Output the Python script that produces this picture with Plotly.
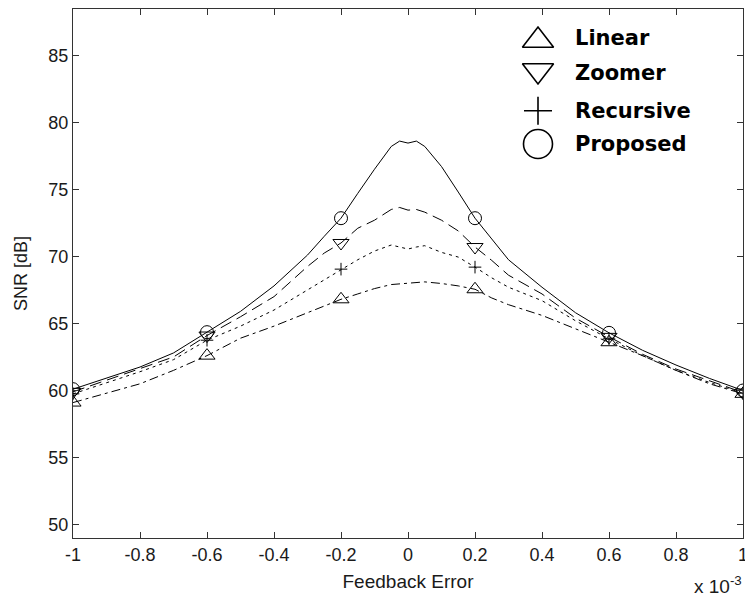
import plotly.graph_objects as go

# ---------------- data (feedback error in units of 1e-3) ----------------
x_err = [-1, -0.9, -0.8, -0.7, -0.6, -0.5, -0.4, -0.3, -0.25, -0.2, -0.15, -0.1, -0.05, -0.025,
         0, 0.025, 0.05, 0.1, 0.15, 0.2, 0.25, 0.3, 0.4, 0.5, 0.6, 0.7, 0.8, 0.9, 1]

snr_linear = [59.1, 59.8, 60.5, 61.5, 62.6, 63.9, 64.8, 65.8, 66.3, 66.8, 67.2, 67.6, 67.9, 67.95,
              68.0, 68.05, 68.1, 67.98, 67.8, 67.55, 66.9, 66.4, 65.6, 64.6, 63.6, 62.6, 61.5, 60.5, 59.75]
snr_zoomer = [59.9, 60.75, 61.6, 62.5, 64.1, 65.5, 67.0, 69.25, 70.25, 71.0, 72.1, 72.7, 73.5, 73.65,
              73.45, 73.5, 73.3, 72.7, 71.9, 70.7, 69.7, 68.6, 67.2, 65.4, 64.0, 62.7, 61.6, 60.7, 59.85]
snr_recursive = [59.75, 60.55, 61.4, 62.3, 63.75, 64.8, 66.0, 67.5, 68.25, 69.05, 69.75, 70.4, 70.85, 70.7,
                 70.55, 70.7, 70.8, 70.3, 69.95, 69.2, 68.4, 67.7, 66.7, 65.2, 63.85, 62.6, 61.5, 60.6, 59.8]
snr_proposed = [60.1, 60.9, 61.75, 62.8, 64.35, 65.9, 67.8, 70.1, 71.5, 72.85, 74.7, 76.5, 78.2, 78.6,
                78.45, 78.6, 78.2, 76.7, 74.8, 72.85, 71.3, 69.75, 67.7, 65.8, 64.3, 63.0, 61.9, 60.9, 60.0]

marker_x = [-1, -0.6, -0.2, 0.2, 0.6, 1]

series_names = ["Linear", "Zoomer", "Recursive", "Proposed"]

x_ticks = [-1, -0.8, -0.6, -0.4, -0.2, 0, 0.2, 0.4, 0.6, 0.8, 1]
x_tick_labels = ["-1", "-0.8", "-0.6", "-0.4", "-0.2", "0", "0.2", "0.4", "0.6", "0.8", "1"]
y_ticks = [50, 55, 60, 65, 70, 75, 80, 85]
y_tick_labels = ["50", "55", "60", "65", "70", "75", "80", "85"]

# ---------------- styling ----------------
W, H = 745, 598
ML, MR, MT, MB = 73, 2, 9, 60
PW, PH = W - ML - MR, H - MT - MB

series_values = [snr_linear, snr_zoomer, snr_recursive, snr_proposed]
dashes = ["9px,4px,3px,4px", "12px,6px", "3px,4px", "solid"]
symbols = ["triangle-up-open", "triangle-down-open", "cross-thin-open", "circle-open"]
plot_sizes = [14, 14, 9, 13]
legend_sizes = [27, 27, 20, 29]

fig = go.Figure()

for name, vals, dash in zip(series_names, series_values, dashes):
    fig.add_trace(go.Scatter(
        x=x_err, y=vals, mode="lines", name=name, showlegend=False,
        line=dict(color="black", width=1, dash=dash),
        hoverinfo="skip"))

for name, vals, sym, sz in zip(series_names, series_values, symbols, plot_sizes):
    mx = [xv for xv in x_err if xv in marker_x]
    my = [vals[x_err.index(xv)] for xv in mx]
    fig.add_trace(go.Scatter(
        x=mx, y=my, mode="markers", name=name, showlegend=False,
        marker=dict(symbol=sym, size=sz, color="black", line=dict(color="black", width=1))))

# ---------------- hand-made legend (overlay pixel axes) ----------------
leg_px_x = 538
leg_px_y = [40.5, 70.5, 110.7, 144]
text_px_x = 573
text_px_y = [38, 73, 110.7, 144]
for i, (name, sym, sz) in enumerate(zip(series_names, symbols, legend_sizes)):
    fig.add_trace(go.Scatter(
        x=[leg_px_x - ML], y=[leg_px_y[i] - MT], mode="markers", showlegend=False,
        xaxis="x2", yaxis="y2", hoverinfo="skip",
        marker=dict(symbol=sym, size=sz, color="black", line=dict(color="black", width=1.6))))
    fig.add_annotation(
        x=(text_px_x - ML) / PW, y=1 - (text_px_y[i] - MT) / PH, xref="paper", yref="paper",
        text="<b>%s</b>" % name, showarrow=False, xanchor="left", yanchor="middle",
        font=dict(family="DejaVu Sans", size=21, color="black"))

# exponent label
fig.add_annotation(
    x=(W - ML - 1) / PW, y=1 - (599 - MT) / PH, xref="paper", yref="paper",
    text="x 10<sup>-3</sup>", showarrow=False, xanchor="right", yanchor="bottom",
    font=dict(family="Liberation Sans", size=19, color="#1a1a1a"))

axis_common = dict(
    showline=True, linecolor="#333333", linewidth=1, mirror="ticks",
    ticks="inside", ticklen=6, tickcolor="#333333", tickwidth=1,
    showgrid=False, zeroline=False, ticklabeloverflow="allow", automargin=False,
    tickfont=dict(family="Liberation Sans", size=18, color="#1a1a1a"))

fig.update_layout(
    template="none",
    width=W, height=H,
    margin=dict(l=ML, r=MR, t=MT, b=MB),
    paper_bgcolor="white", plot_bgcolor="white",
    showlegend=False,
    xaxis=dict(range=[-1, 1], tickvals=x_ticks, ticktext=x_tick_labels,
               title=dict(text="Feedback Error", standoff=11,
                          font=dict(family="Liberation Sans", size=19, color="#1a1a1a")),
               **axis_common),
    yaxis=dict(range=[49, 88.45], tickvals=y_ticks, ticktext=y_tick_labels,
               title=dict(text="SNR [dB]", standoff=16,
                          font=dict(family="Liberation Sans", size=18, color="#1a1a1a")),
               **axis_common),
    xaxis2=dict(range=[0, PW], overlaying="x", visible=False, fixedrange=True, automargin=False),
    yaxis2=dict(range=[PH, 0], overlaying="y", visible=False, fixedrange=True, automargin=False),
)

fig.write_html("out.html")
